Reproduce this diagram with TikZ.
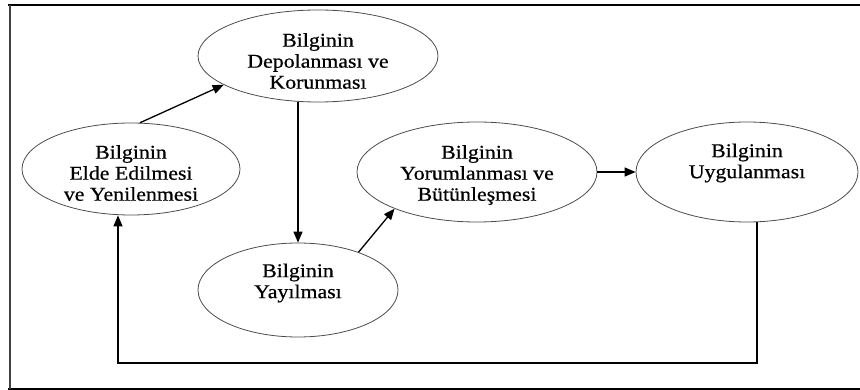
\documentclass[tikz,border=0pt]{standalone}
\usepackage{fontspec}
\setmainfont{Liberation Serif}[FakeStretch=1.12,FakeBold=0.6]
\usetikzlibrary{shapes.geometric,arrows.meta}
\tikzset{
  elli/.style={ellipse,draw=black!70,line width=0.8pt,inner sep=0pt},
  txt/.style={align=center,font=\fontsize{19.5}{21}\selectfont,inner sep=0pt},
  arr/.style={draw=black,line width=1.3pt,-{Triangle[length=11pt,width=9pt]}},
}
\begin{document}
\begin{tikzpicture}[x=1pt,y=-1pt]
\useasboundingbox (0,0) rectangle (860,390);
% frame
\draw[line width=2.6pt] (8,5) -- (860,5);
\draw[line width=2.6pt] (8,389) -- (860,389);
\draw[line width=1.4pt,black!75] (10,5) -- (10,389);

% ellipses
\node[elli,minimum width=240pt,minimum height=92pt] (dep) at (318,56) {};
\node[elli,minimum width=218pt,minimum height=92pt] (eld) at (131,169) {};
\node[elli,minimum width=200pt,minimum height=94pt] (yay) at (298,290) {};
\node[elli,minimum width=240pt,minimum height=100pt] (yor) at (477,172) {};
\node[elli,minimum width=222pt,minimum height=100pt] (uyg) at (747,172) {};

% labels
\node[txt] (tdep) at (318,61) {Bilginin\\Depolanması ve\\Korunması};
\node[txt] (teld) at (131,173) {Bilginin\\Elde Edilmesi\\ve Yenilenmesi};
\node[txt] (tyay) at (298,283) {Bilginin\\Yayılması};
\node[txt] (tyor) at (477,175) {Bilginin\\Yorumlanması ve\\Bütünleşmesi};
\node[txt] (tuyg) at (747,163) {Bilginin\\Uygulanması};

% connectors
\draw[arr] (eld.79) -- (dep.197);
\draw[arr] (dep.south -| yay.north) -- (yay.north);
\draw[arr] (yay.32) -- (yor.204);
\draw[arr] (yor.east) -- (uyg.west);
\coordinate (rb) at (757,363);
\coordinate (lb) at (118,363);
\draw[arr] (uyg.south -| rb) -- (rb) -- (lb) -- (lb |- eld.south);
\end{tikzpicture}
\end{document}
